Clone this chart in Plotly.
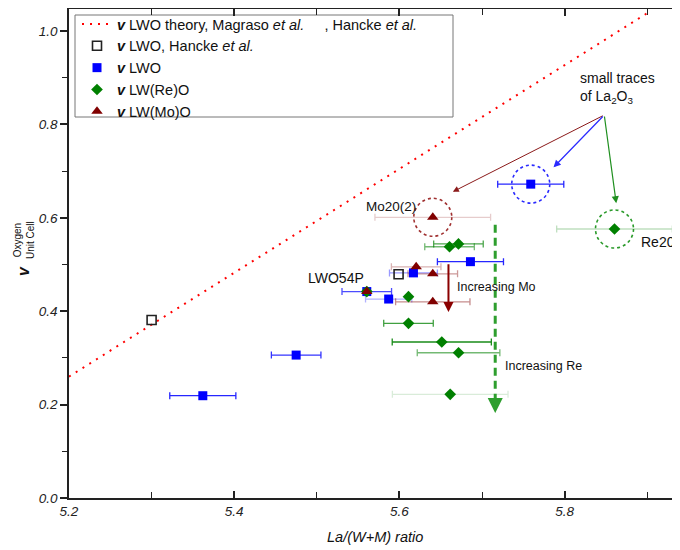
import plotly.graph_objects as go

# ---------------- data ----------------
theory_x = [5.2, 5.9]
theory_y = [0.26, 1.038]

hancke_x = [5.300, 5.599]
hancke_y = [0.381, 0.479]

lwo_x = [5.362, 5.475, 5.5605, 5.587, 5.617, 5.686, 5.759]
lwo_y = [0.219, 0.306, 0.442, 0.426, 0.482, 0.506, 0.672]
lwo_err = [0.040, 0.030, 0.030, 0.028, 0.029, 0.040, 0.040]

re_x = [5.5605, 5.611, 5.6607, 5.6715, 5.611, 5.6513, 5.6716, 5.6615, 5.8604]
re_y = [0.442, 0.431, 0.538, 0.544, 0.374, 0.334, 0.311, 0.222, 0.576]
re_err = [0.0, 0.0, 0.030, 0.030, 0.030, 0.060, 0.050, 0.070, 0.070]

mo_x = [5.5605, 5.6203, 5.6404, 5.6404, 5.6404]
mo_y = [0.442, 0.495, 0.480, 0.420, 0.601]
mo_err = [0.0, 0.030, 0.030, 0.045, 0.070]

x_tick_vals = [5.2, 5.4, 5.6, 5.8]
y_tick_vals = [0.0, 0.2, 0.4, 0.6, 0.8, 1.0]

# ---------------- styles ----------------
BLUE = (0, 0, 255)
GREEN = (0, 128, 0)
BROWN = (128, 0, 0)
lwo_bar_alpha = [0.85, 0.8, 0.7, 0.3, 0.4, 0.85, 0.85]
re_bar_alpha = [0, 0, 0.55, 0.7, 0.75, 0.9, 0.55, 0.15, 0.25]
mo_bar_alpha = [0, 0.3, 0.4, 0.45, 0.2]

FONT = "Liberation Sans, Arial, sans-serif"
W, H = 672, 542          # page adds an 8px body margin
ML, MT, MB = 61, 1, 52
X_RANGE = [5.2, 5.9397]
Y_RANGE = [0, 1.047]
PX_X = (W - ML) / (X_RANGE[1] - X_RANGE[0])
PX_Y = (H - MT - MB) / (Y_RANGE[1] - Y_RANGE[0])


def rgba(c, a):
    return "rgba(%d,%d,%d,%.2f)" % (c[0], c[1], c[2], a)


def paper_x(sx):      # screen px -> paper
    return (sx - 8 - ML) / (W - ML)


def paper_y(sy):
    return (H - MB - (sy - 8)) / (H - MT - MB)


fig = go.Figure()

# error bars (drawn first, individually faded)
for xs, ys, es, al, col in [(lwo_x, lwo_y, lwo_err, lwo_bar_alpha, BLUE),
                            (re_x, re_y, re_err, re_bar_alpha, GREEN),
                            (mo_x, mo_y, mo_err, mo_bar_alpha, BROWN)]:
    for xi, yi, ei, ai in zip(xs, ys, es, al):
        if ei <= 0:
            continue
        fig.add_trace(go.Scatter(
            x=[xi], y=[yi], mode="markers",
            marker=dict(size=2, color="rgba(0,0,0,0)"),
            error_x=dict(type="data", array=[ei], color=rgba(col, ai),
                         thickness=1.3, width=3.5),
            showlegend=False, hoverinfo="skip"))

NB = "\u00a0"
fig.add_trace(go.Scatter(
    x=theory_x, y=theory_y, mode="lines",
    line=dict(color="#ff0000", width=2, dash="2px,6px"),
    name="<b><i>v</i></b> LWO theory, Magraso <i>et al.</i>" + NB * 5 + ", Hancke <i>et al.</i>"))

fig.add_trace(go.Scatter(
    x=hancke_x, y=hancke_y, mode="markers",
    marker=dict(symbol="square-open", size=9, color="#222", line=dict(width=1.6, color="#222")),
    name="<b><i>v</i></b> LWO, Hancke <i>et al.</i>"))

fig.add_trace(go.Scatter(
    x=lwo_x, y=lwo_y, mode="markers",
    marker=dict(symbol="square", size=9, color=rgba(BLUE, 1)),
    name="<b><i>v</i></b> LWO"))

fig.add_trace(go.Scatter(
    x=re_x, y=re_y, mode="markers",
    marker=dict(symbol="diamond", size=9, color=rgba(GREEN, 1)),
    name="<b><i>v</i></b> LW(Re)O"))

fig.add_trace(go.Scatter(
    x=mo_x, y=mo_y, mode="markers",
    marker=dict(symbol="triangle-up", size=10, color=rgba(BROWN, 1)),
    name="<b><i>v</i></b> LW(Mo)O"))

shapes = []
# legend frame
shapes.append(dict(type="rect", xref="paper", yref="paper",
                   x0=paper_x(75), x1=paper_x(453), y0=paper_y(117), y1=paper_y(15),
                   line=dict(color="#777", width=1), fillcolor="white", layer="below"))

# dotted circles around highlighted points
for cx, cy, col in [(lwo_x[6], lwo_y[6], "#2a2aff"),
                    (mo_x[4], mo_y[4], "#a03030"),
                    (re_x[8], re_y[8], "#2a9a2a")]:
    r = 19.0
    shapes.append(dict(type="circle", xref="x", yref="y",
                       x0=cx - r / PX_X, x1=cx + r / PX_X,
                       y0=cy - r / PX_Y, y1=cy + r / PX_Y,
                       line=dict(color=col, width=1.6, dash="dot")))

# green dashed "increasing Re" line
shapes.append(dict(type="line", xref="x", yref="y", x0=5.716, x1=5.716, y0=0.585, y1=0.205,
                   line=dict(color="#2e9e2e", width=3, dash="8px,5px")))

annotations = []
# arrows from "small traces" note
origin = (5.848, 0.820)
for hx, hy, col, w in [(5.6647, 0.6557, "#8b1a1a", 1.0),
                       (5.7866, 0.708, "#2a2aff", 1.2),
                       (5.8625, 0.631, "#1f8f1f", 1.2)]:
    annotations.append(dict(x=hx, y=hy, ax=origin[0], ay=origin[1], xref="x", yref="y",
                            axref="x", ayref="y", showarrow=True, arrowhead=2,
                            arrowsize=1.2, arrowwidth=w, arrowcolor=col, text=""))
# increasing Mo arrow
annotations.append(dict(x=5.6594, y=0.3985, ax=5.6594, ay=0.5035, xref="x", yref="y",
                        axref="x", ayref="y", showarrow=True, arrowhead=2, arrowsize=1,
                        arrowwidth=2, arrowcolor="#8b0000", text=""))
# increasing Re arrowhead
annotations.append(dict(x=5.716, y=0.182, ax=5.716, ay=0.205, xref="x", yref="y",
                        axref="x", ayref="y", showarrow=True, arrowhead=2, arrowsize=1,
                        arrowwidth=3, arrowcolor="#2e9e2e", text=""))


def label(text, x, y, size=13, xanchor="center", align="center"):
    annotations.append(dict(x=x, y=y, xref="x", yref="y", text=text, showarrow=False,
                            xanchor=xanchor, yanchor="middle", align=align,
                            font=dict(family=FONT, size=size, color="#111")))


label("Mo20(2)", 5.590, 0.625, 13.5)
label("LWO54P", 5.5235, 0.471, 14)
label("Increasing Mo", 5.6676, 0.451, 12.5, "left")
label("Increasing Re", 5.7252, 0.282, 12.5, "left")
label("Re20", 5.890, 0.548, 14, "left")
label("small traces<br>of La<sub>2</sub>O<sub>3</sub>", 5.816, 0.877, 14, "left", "left")

# axis titles
annotations.append(dict(xref="paper", yref="paper", x=paper_x(23), y=paper_y(271),
                        xanchor="center", yanchor="middle", text="<b><i>v</i></b>",
                        showarrow=False, textangle=-90,
                        font=dict(family=FONT, size=16, color="#111")))
annotations.append(dict(xref="paper", yref="paper", x=paper_x(24), y=paper_y(240),
                        xanchor="center", yanchor="middle",
                        text="Oxygen<br>Unit Cell", showarrow=False, textangle=-90,
                        font=dict(family=FONT, size=10, color="#111")))
annotations.append(dict(xref="paper", yref="paper", x=paper_x(375), y=paper_y(537),
                        xanchor="center", yanchor="middle",
                        text="<i>La/(W+M) ratio</i>", showarrow=False,
                        font=dict(family=FONT, size=14.5, color="#111")))

fig.update_layout(
    width=W, height=H,
    margin=dict(l=ML, r=0, t=MT, b=MB, autoexpand=False),
    plot_bgcolor="white", paper_bgcolor="white",
    font=dict(family=FONT, color="#111"),
    shapes=shapes, annotations=annotations,
    legend=dict(x=paper_x(77), y=1.002, xanchor="left", yanchor="top",
                borderwidth=0, bgcolor="rgba(0,0,0,0)",
                font=dict(family=FONT, size=14.5, color="#111"),
                tracegroupgap=0),
)
fig.update_xaxes(range=X_RANGE, tickvals=x_tick_vals, tickformat=".1f",
                 ticks="inside", ticklen=7, tickwidth=1.5, tickcolor="#222",
                 showline=True, linecolor="#222", linewidth=1.5, mirror="ticks",
                 showgrid=False, zeroline=False,
                 minor=dict(dtick=0.1, tick0=5.2, ticks="inside", ticklen=6, tickwidth=1.3,
                            tickcolor="#222", showgrid=False),
                 tickfont=dict(family=FONT, size=13.5, style="italic", color="#222"))
fig.update_yaxes(range=Y_RANGE, tickvals=y_tick_vals, tickformat=".1f",
                 ticks="outside", ticklen=7, tickwidth=1.5, tickcolor="#222",
                 showline=True, linecolor="#222", linewidth=1.5, mirror=False,
                 showgrid=False, zeroline=False,
                 minor=dict(dtick=0.1, tick0=0, ticks="outside", ticklen=5, tickwidth=1.3,
                            tickcolor="#222", showgrid=False),
                 tickfont=dict(family=FONT, size=13.5, style="italic", color="#222"))

fig.write_html("out.html")
